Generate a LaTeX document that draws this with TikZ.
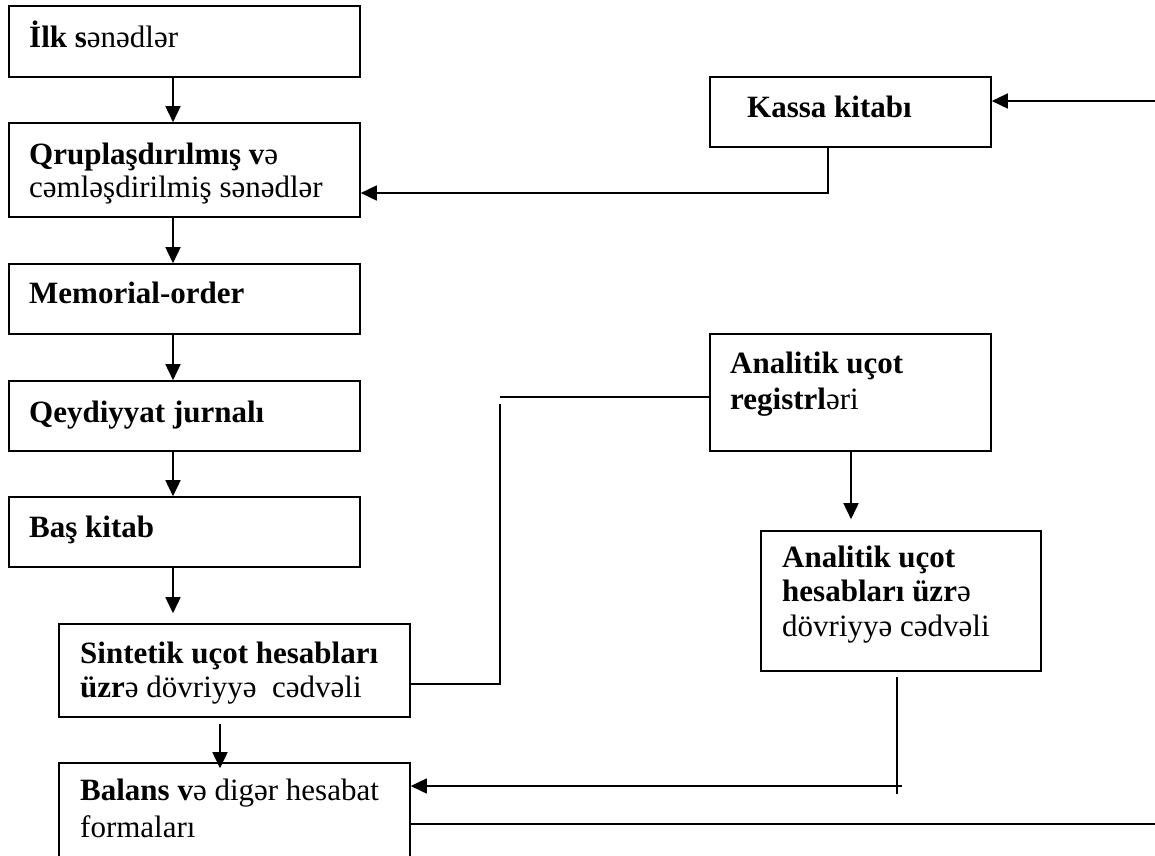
\documentclass[tikz,border=0pt]{standalone}
\usepackage{fontspec}
\setmainfont{Liberation Serif}
\usetikzlibrary{arrows.meta,calc}
\begin{document}
\begin{tikzpicture}[x=1pt,y=-1pt,
  box/.style={draw,line width=1.6pt,minimum width=#1,inner sep=0pt},
  txt/.style={anchor=base west,inner sep=0pt,font=\fontsize{31}{35}\selectfont},
  conn/.style={line width=1.6pt},
  arr/.style={line width=1.6pt,-{Triangle[length=16pt,width=15pt]}}]
\useasboundingbox (0,0) rectangle (1155,855);
\clip (0,0) rectangle (1155,855);
% boxes (centre, width, height in px)
\node[box=351pt,minimum height=71pt] (b1) at (184.5,41.5) {};
\node[box=351pt,minimum height=94pt] (b2) at (184.5,170) {};
\node[box=351pt,minimum height=70pt] (b3) at (184.5,299) {};
\node[box=351pt,minimum height=70pt] (b4) at (184.5,416) {};
\node[box=351pt,minimum height=70pt] (b5) at (184.5,532) {};
\node[box=351pt,minimum height=93pt] (b6) at (234.5,670.5) {};
\node[box=351pt,minimum height=107pt] (b7) at (234.5,816.5) {};
\node[box=281pt,minimum height=70pt] (b8) at (850.5,112) {};
\node[box=281pt,minimum height=117pt] (b9) at (850.5,392.5) {};
\node[box=280pt,minimum height=140pt] (b10) at (901,601) {};
% texts
\node[txt] (t1) at (29,47) {\textbf{İlk s}ənədlər};
\node[txt] (t2a) at (29,164) {\textbf{Qruplaşdırılmış v}ə};
\node[txt] (t2b) at (29,197) {cəmləşdirilmiş sənədlər};
\node[txt] (t3) at (29,303) {\textbf{Memorial-order}};
\node[txt] (t4) at (29,422) {\textbf{Qeydiyyat jurnalı}};
\node[txt] (t5) at (29,537) {\textbf{Baş kitab}};
\node[txt] (t6a) at (80,663) {\textbf{Sintetik uçot hesabları}};
\node[txt] (t6b) at (80,697) {\textbf{üzr}ə dövriyyə\ \ cədvəli};
\node[txt] (t7a) at (80,800) {\textbf{Balans v}ə digər hesabat};
\node[txt] (t7b) at (80,837) {formaları};
\node[txt] (t8) at (747,117) {\textbf{Kassa kitabı}};
\node[txt] (t9a) at (730,373) {\textbf{Analitik uçot}};
\node[txt] (t9b) at (730,409) {\textbf{registrl}əri};
\node[txt] (t10a) at (782,567) {\textbf{Analitik uçot}};
\node[txt] (t10b) at (782,601) {\textbf{hesabları üzr}ə};
\node[txt] (t10c) at (782,636) {dövriyyə cədvəli};
% helper coordinates
\coordinate (ax) at (173,0);
\coordinate (bx) at (220,0);
\coordinate (cx) at (851,0);
\coordinate (k1) at (1155,101);
\coordinate (k2) at (828,193);
\coordinate (r1) at (500,397);
\coordinate (r2) at (500,404);
\coordinate (r3) at (500,684);
\coordinate (d1) at (897,677);
\coordinate (d2) at (897,794);
\coordinate (d3) at (902,786);
\coordinate (e1) at (1155,824);
% main chain
\draw[arr] (b1.south -| ax) -- (b2.north -| ax);
\draw[arr] (b2.south -| ax) -- (b3.north -| ax);
\draw[arr] (b3.south -| ax) -- (b4.north -| ax);
\draw[arr] (b4.south -| ax) -- (b5.north -| ax);
\draw[arr] (b5.south -| ax) -- ($(b6.north -| ax)+(0,-10)$);
\draw[arr] ($(b6.south -| bx)+(0,6)$) -- ($(b7.north -| bx)+(0,6)$);
% Kassa
\draw[arr] (k1) -- (k1 -| b8.east);
\draw[arr] (b8.south -| k2) -- (k2) -- (k2 -| b2.east);
% registers
\draw[conn] (b9.west |- r1) -- (r1);
\draw[conn] (r2) -- (r3) -- (r3 -| b6.east);
\draw[arr] (b9.south -| cx) -- ($(b10.north -| cx)+(0,-11)$);
% to balance
\draw[conn] (d1) -- (d2);
\draw[arr] (d3) -- (d3 -| b7.east);
\draw[conn] (b7.east |- e1) -- (e1);
\end{tikzpicture}
\end{document}
